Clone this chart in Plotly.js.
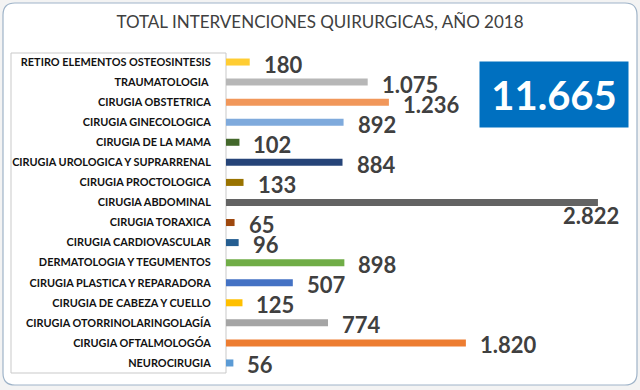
<!DOCTYPE html>
<html>
<head>
<meta charset="utf-8">
<script src="https://cdn.plot.ly/plotly-3.0.1.min.js"></script>
<style>html,body{margin:0;padding:0;background:#fff;}#chart{width:640px;height:390px;}</style>
</head>
<body>
<div id="chart"></div>
<script>
// Data (top-to-bottom order as shown)
var categories = [
  "RETIRO ELEMENTOS OSTEOSINTESIS",
  "TRAUMATOLOGIA ",
  "CIRUGIA OBSTETRICA",
  "CIRUGIA GINECOLOGICA",
  "CIRUGIA DE LA MAMA",
  "CIRUGIA UROLOGICA Y SUPRARRENAL",
  "CIRUGIA PROCTOLOGICA",
  "CIRUGIA ABDOMINAL",
  "CIRUGIA TORAXICA",
  "CIRUGIA CARDIOVASCULAR",
  "DERMATOLOGIA Y TEGUMENTOS",
  "CIRUGIA PLASTICA Y REPARADORA",
  "CIRUGIA DE CABEZA Y CUELLO",
  "CIRUGIA OTORRINOLARINGOLAGÍA",
  "CIRUGIA OFTALMOLOGÓA",
  "NEUROCIRUGIA"
];
var values = [180, 1075, 1236, 892, 102, 884, 133, 2822, 65, 96, 898, 507, 125, 774, 1820, 56];
var totalLabel = "11.665";
var chartTitle = "TOTAL INTERVENCIONES QUIRURGICAS, AÑO 2018";

// Styling
var barColors = ["#FFCD33","#B7B7B7","#F1975A","#7FAADC","#43682B","#264478","#997300",
                 "#636363","#9E480E","#255E91","#70AD47","#4472C4","#FFC000","#A5A5A5","#ED7D31","#5B9BD5"];
// label offsets in pixels (styling), default right of bar end
var labelStyle = {7: {xanchor: "center", xshift: -7, yshift: -13}};

function fmt(n) {
  return String(n).replace(/\B(?=(\d{3})+(?!\d))/g, ".");
}

var L = 226, R = 14, T = 52, B = 17, W = 640, H = 390;
var pw = W - L - R, ph = H - T - B;
function px2x(p) { return (p - L) / pw; }
function px2y(p) { return (H - B - p) / ph; }

var trace = {
  type: "bar",
  orientation: "h",
  y: categories,
  x: values,
  marker: {color: barColors},
  hoverinfo: "none"
};

var annotations = values.map(function(v, i) {
  var s = labelStyle[i] || {};
  return {
    x: v, y: categories[i], xref: "x", yref: "y",
    text: fmt(v), showarrow: false,
    xanchor: s.xanchor || "left",
    xshift: s.xshift !== undefined ? s.xshift : 12,
    yshift: s.yshift !== undefined ? s.yshift : -2,
    font: {family: "Lato", size: 22, color: "#404040", weight: "bold"}
  };
});

annotations.push({
  xref: "paper", yref: "paper",
  x: px2x(554), y: px2y(94.5),
  xanchor: "center", yanchor: "middle",
  text: totalLabel, showarrow: false,
  bgcolor: "#0070C0", width: 146, height: 63, borderpad: 1,
  font: {family: "Lato", size: 40, color: "#ffffff", weight: "bold"}
});

// rounded outer border path (paper coords)
function rr(x0, y0, x1, y1, r) {
  var X = px2x, Y = px2y;
  return "M" + X(x0 + r) + "," + Y(y0) +
    " L" + X(x1 - r) + "," + Y(y0) +
    " Q" + X(x1) + "," + Y(y0) + " " + X(x1) + "," + Y(y0 + r) +
    " L" + X(x1) + "," + Y(y1 - r) +
    " Q" + X(x1) + "," + Y(y1) + " " + X(x1 - r) + "," + Y(y1) +
    " L" + X(x0 + r) + "," + Y(y1) +
    " Q" + X(x0) + "," + Y(y1) + " " + X(x0) + "," + Y(y1 - r) +
    " L" + X(x0) + "," + Y(y0 + r) +
    " Q" + X(x0) + "," + Y(y0) + " " + X(x0 + r) + "," + Y(y0) + " Z";
}

var shapes = [
  {type: "path", xref: "paper", yref: "paper", path: rr(3, 3, 637, 385, 12),
   fillcolor: "#ffffff", line: {color: "#9fb4c9", width: 1.2}, layer: "below"},
  {type: "rect", xref: "paper", yref: "paper", x0: px2x(11), x1: px2x(226), y0: px2y(373), y1: px2y(53),
   line: {color: "#c9c9c9", width: 1}, layer: "below"}
];

var layout = {
  width: W, height: H,
  margin: {l: L, r: R, t: T, b: B, pad: 0, autoexpand: false},
  paper_bgcolor: "#f3f3f3",
  plot_bgcolor: "rgba(0,0,0,0)",
  title: {
    text: chartTitle,
    x: 0.5, xref: "container", xanchor: "center",
    y: 1 - 22 / H, yref: "container", yanchor: "middle",
    font: {family: "Lato", size: 17, color: "#404040"}
  },
  xaxis: {range: [0, pw / 0.1318], visible: false, fixedrange: true, automargin: false},
  yaxis: {
    type: "category", range: [categories.length - 0.5, -0.5], autorange: false, automargin: false,
    showgrid: false, zeroline: false, showline: false,
    ticks: "outside", ticklen: 12, tickcolor: "rgba(0,0,0,0)",
    tickfont: {family: "Lato", size: 10.9, color: "#111111", weight: "bold"}
  },
  bargap: 0.65,
  showlegend: false,
  annotations: annotations,
  shapes: shapes
};

Plotly.newPlot("chart", [trace], layout, {displayModeBar: false, staticPlot: true});
</script>
</body>
</html>
